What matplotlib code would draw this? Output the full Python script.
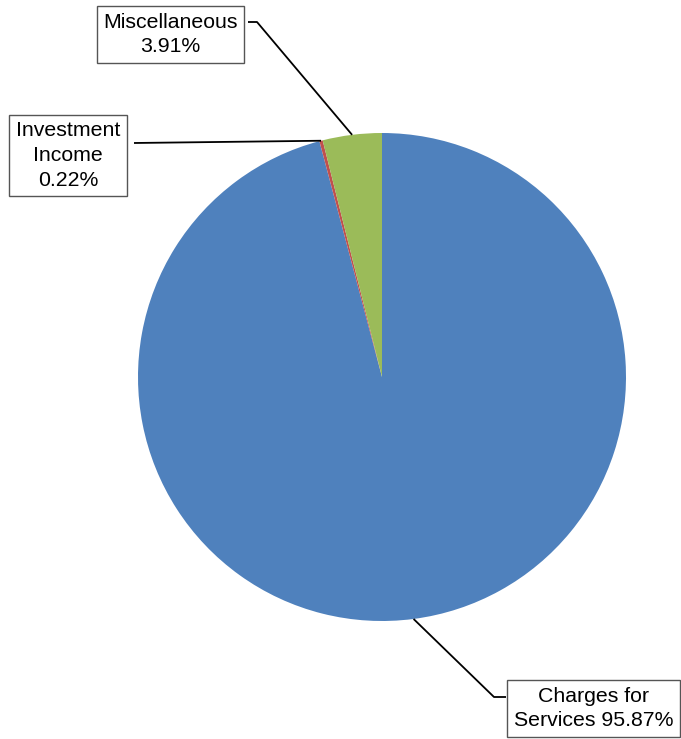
import numpy as np
import matplotlib.pyplot as plt

plt.rcParams['font.family'] = ['Liberation Sans', 'DejaVu Sans']

categories = ["Charges for\nServices", "Investment\nIncome", "Miscellaneous"]
shares = [95.87, 0.22, 3.91]
label_texts = ["Charges for\nServices 95.87%", "Investment\nIncome\n0.22%", "Miscellaneous\n3.91%"]
colors = ["#4F81BD", "#C0504D", "#9BBB59"]

W, H = 681, 739
fig = plt.figure(figsize=(W / 100, H / 100), dpi=100)
ax = fig.add_axes([0, 0, 1, 1])

cx, cy, r = 382, H - 377, 244
wedges, _ = ax.pie(shares, colors=colors, startangle=90, counterclock=False,
                   center=(cx, cy), radius=r, frame=True,
                   wedgeprops=dict(linewidth=0))
ax.set_xlim(0, W)
ax.set_ylim(0, H)
ax.set_aspect("equal")
ax.axis("off")

# label box centres and the elbow of each leader line (pixels from top-left)
box_centres = [(593.5, 708.5), (68, 155.5), (170.5, 34.5)]
line_starts = [[(506, 697), (494, 697)], [(134, 143)], [(248, 22), (257, 22)]]

for w, txt, (bx, by), pts in zip(wedges, label_texts, box_centres, line_starts):
    mid = np.deg2rad((w.theta1 + w.theta2) / 2)
    ax_x = cx + r * np.cos(mid)
    ax_y = cy + r * np.sin(mid)
    xs = [p[0] for p in pts] + [ax_x]
    ys = [H - p[1] for p in pts] + [ax_y]
    ax.plot(xs, ys, color="black", lw=1.3, solid_capstyle="butt")
    ax.text(bx, H - by, txt, ha="center", va="center", fontsize=15.3,
            linespacing=1.38,
            bbox=dict(boxstyle="square,pad=0.3", fc="white", ec="#555555", lw=1))

fig.savefig("out.png", dpi=100)
